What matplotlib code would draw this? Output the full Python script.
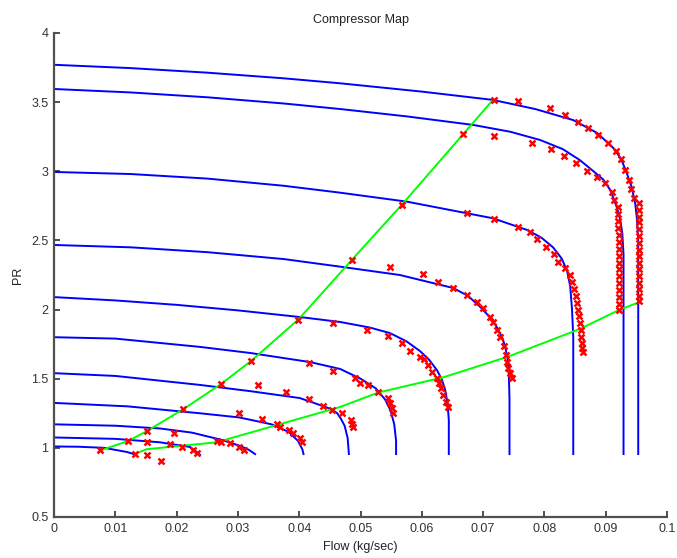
import matplotlib
matplotlib.use("Agg")
import matplotlib.pyplot as plt
from matplotlib.ticker import FuncFormatter

plt.rcParams['font.family'] = ['Liberation Sans', 'DejaVu Sans']

# speed lines (flow kg/sec, pressure ratio)
speed_flow = [
	[0, 0.0125, 0.025, 0.0375, 0.0467, 0.06, 0.0716, 0.0785, 0.0847, 0.0886, 0.0912, 0.0925, 0.0934, 0.0942, 0.0948, 0.0951, 0.0953, 0.0953],
	[0, 0.0125, 0.025, 0.0375, 0.0467, 0.0575, 0.0684, 0.0745, 0.0793, 0.083, 0.0858, 0.088, 0.0896, 0.0908, 0.0918, 0.0924, 0.0927, 0.0929, 0.0929],
	[0, 0.0125, 0.025, 0.0375, 0.0467, 0.0576, 0.0716, 0.0772, 0.0795, 0.0814, 0.0828, 0.0837, 0.0842, 0.0845, 0.0847, 0.0847],
	[0, 0.0125, 0.025, 0.0375, 0.0467, 0.0564, 0.0651, 0.0675, 0.0695, 0.0712, 0.0722, 0.0731, 0.0736, 0.074, 0.0742, 0.0743, 0.0743],
	[0, 0.01, 0.02, 0.03, 0.0401, 0.0467, 0.0515, 0.0548, 0.0575, 0.0597, 0.0612, 0.0625, 0.0633, 0.0638, 0.0642, 0.0644, 0.0644],
	[0, 0.01, 0.0238, 0.032, 0.0418, 0.0467, 0.05, 0.0525, 0.054, 0.0549, 0.0555, 0.0558, 0.0558],
	[0, 0.01, 0.0238, 0.032, 0.0401, 0.044, 0.0452, 0.0462, 0.0468, 0.0474, 0.0479, 0.0481],
	[0, 0.012, 0.0238, 0.0302, 0.0355, 0.0383, 0.0398, 0.0405, 0.0407],
	[0, 0.01, 0.0173, 0.0225, 0.0274, 0.0303, 0.0318, 0.0328],
	[0, 0.01, 0.0173, 0.0222, 0.0233, 0.0238],
	[0, 0.004, 0.0082, 0.0119, 0.0134],
]
speed_pr = [
	[3.77, 3.746, 3.713, 3.672, 3.636, 3.576, 3.516, 3.45, 3.37, 3.277, 3.17, 3.09, 2.99, 2.89, 2.77, 2.65, 2.5, 0.955],
	[3.595, 3.57, 3.535, 3.49, 3.45, 3.397, 3.335, 3.285, 3.226, 3.16, 3.08, 3.0, 2.94, 2.86, 2.74, 2.64, 2.55, 2.4, 0.955],
	[2.995, 2.98, 2.947, 2.895, 2.845, 2.78, 2.66, 2.575, 2.52, 2.45, 2.37, 2.28, 2.17, 2.0, 1.8, 0.955],
	[2.467, 2.45, 2.415, 2.365, 2.31, 2.25, 2.156, 2.10, 2.02, 1.94, 1.875, 1.80, 1.73, 1.64, 1.52, 1.35, 0.955],
	[2.09, 2.066, 2.034, 1.994, 1.946, 1.91, 1.87, 1.83, 1.77, 1.70, 1.636, 1.56, 1.49, 1.42, 1.32, 1.2, 0.955],
	[1.80, 1.79, 1.73, 1.686, 1.62, 1.57, 1.50, 1.43, 1.35, 1.27, 1.17, 1.05, 0.955],
	[1.54, 1.52, 1.455, 1.41, 1.36, 1.30, 1.28, 1.25, 1.21, 1.16, 1.07, 0.955],
	[1.325, 1.30, 1.25, 1.22, 1.17, 1.115, 1.05, 0.99, 0.955],
	[1.17, 1.16, 1.14, 1.11, 1.057, 1.015, 0.985, 0.955],
	[1.075, 1.065, 1.04, 1.006, 0.97, 0.95],
	[1.01, 1.008, 1.0, 0.97, 0.95],
]

# surge line and choke line
surge_flow = [0.0075, 0.0121, 0.0151, 0.0211, 0.0272, 0.0322, 0.0399, 0.0486, 0.0567, 0.0716]
surge_pr = [0.98, 1.05, 1.12, 1.28, 1.46, 1.63, 1.93, 2.36, 2.756, 3.516]
choke_flow = [0.0132, 0.0151, 0.0265, 0.0467, 0.0529, 0.0635, 0.0741, 0.0858, 0.0923, 0.0953]
choke_pr = [0.956, 0.99, 1.04, 1.296, 1.40, 1.51, 1.66, 1.86, 2.0, 2.05]

# measured points
meas_flow = [
	0.0075, 0.0132, 0.0151, 0.0174,
	0.0121, 0.0151, 0.019, 0.0208, 0.0227, 0.0233,
	0.0151, 0.0196, 0.0266, 0.0272, 0.0287, 0.0301, 0.031,
	0.0211, 0.0302, 0.0339, 0.0364, 0.0369, 0.0383, 0.039, 0.0401, 0.0404,
	0.0272, 0.0333, 0.0378, 0.0416, 0.0439, 0.0453, 0.047, 0.0484, 0.0486, 0.0488,
	0.0322, 0.0416, 0.0455, 0.0491, 0.0499, 0.0512, 0.0529, 0.0545, 0.0548, 0.0551, 0.0553,
	0.0398, 0.0455, 0.051, 0.0545, 0.0568, 0.0581, 0.0597, 0.0603, 0.061, 0.0617, 0.0625, 0.0628, 0.0631, 0.0635, 0.0639, 0.0643,
	0.0486, 0.0548, 0.0602, 0.0627, 0.0651, 0.0673, 0.069, 0.07, 0.0711, 0.0716, 0.0722, 0.0727, 0.0734, 0.0737, 0.0739, 0.0741, 0.0744, 0.0747,
	0.0568, 0.0674, 0.0718, 0.0757, 0.0777, 0.0788, 0.0803, 0.0815, 0.0822, 0.0834, 0.0841, 0.0845, 0.0848, 0.0851, 0.0853, 0.0855, 0.0857, 0.0858, 0.0859, 0.086, 0.0861, 0.0862, 0.0863,
	0.0667, 0.0718, 0.078, 0.081, 0.0832, 0.0852, 0.087, 0.0886, 0.0899, 0.091, 0.0914,
	0.092, 0.092, 0.092, 0.092, 0.0921, 0.0921, 0.0921, 0.0921, 0.0921, 0.0922, 0.0922, 0.0922, 0.0922, 0.0922, 0.0922, 0.0922,
	0.0718, 0.0757, 0.0809, 0.0834, 0.0855, 0.0871, 0.0887, 0.0904, 0.0917, 0.0925, 0.0932, 0.0938, 0.0942, 0.0946,
	0.0954, 0.0954, 0.0954, 0.0954, 0.0954, 0.0954, 0.0954, 0.0954, 0.0954, 0.0954, 0.0954, 0.0954, 0.0954, 0.0954, 0.0954, 0.0954,
]
meas_pr = [
	0.985, 0.956, 0.95, 0.903,
	1.05, 1.04, 1.03, 1.006, 0.985, 0.96,
	1.12, 1.105, 1.05, 1.045, 1.033, 1.003, 0.983,
	1.28, 1.25, 1.205, 1.17, 1.15, 1.13, 1.11, 1.07, 1.045,
	1.46, 1.455, 1.405, 1.355, 1.30, 1.275, 1.25, 1.20, 1.175, 1.15,
	1.63, 1.61, 1.555, 1.505, 1.47, 1.455, 1.405, 1.36, 1.325, 1.29, 1.255,
	1.925, 1.90, 1.855, 1.81, 1.76, 1.70, 1.66, 1.64, 1.60, 1.55, 1.505, 1.47, 1.43, 1.38, 1.33, 1.295,
	2.36, 2.31, 2.26, 2.20, 2.156, 2.105, 2.055, 2.01, 1.946, 1.91, 1.85, 1.80, 1.74, 1.67, 1.62, 1.58, 1.54, 1.505,
	2.756, 2.70, 2.655, 2.60, 2.56, 2.51, 2.455, 2.40, 2.345, 2.30, 2.25, 2.20, 2.15, 2.10, 2.05, 2.00, 1.95, 1.90, 1.85, 1.80, 1.76, 1.72, 1.69,
	3.27, 3.256, 3.206, 3.16, 3.11, 3.06, 3.0, 2.96, 2.915, 2.85, 2.79,
	2.74, 2.69, 2.64, 2.59, 2.54, 2.49, 2.44, 2.39, 2.34, 2.29, 2.24, 2.19, 2.14, 2.09, 2.04, 2.0,
	3.516, 3.508, 3.457, 3.407, 3.357, 3.31, 3.263, 3.204, 3.15, 3.09, 3.01, 2.94, 2.87, 2.81,
	2.77, 2.72, 2.67, 2.63, 2.58, 2.53, 2.48, 2.43, 2.39, 2.34, 2.29, 2.24, 2.19, 2.15, 2.10, 2.06,
]

x_ticks = [0, 0.01, 0.02, 0.03, 0.04, 0.05, 0.06, 0.07, 0.08, 0.09, 0.1]
y_ticks = [0.5, 1, 1.5, 2, 2.5, 3, 3.5, 4]

fig = plt.figure(figsize=(6.77, 5.58), dpi=100)
ax = fig.add_axes([0.0798, 0.0735, 0.9055, 0.8674])

for fl, pr in zip(speed_flow, speed_pr):
	ax.plot(fl, pr, color='#0000ff', lw=1.4)

ax.plot(surge_flow, surge_pr, color='#00ff00', lw=1.4)
ax.plot(choke_flow, choke_pr, color='#00ff00', lw=1.4)

ax.plot(meas_flow, meas_pr, 'x', color='#ff0000', ms=4.5, mew=1.8)

ax.set_xlim(0, 0.1)
ax.set_ylim(0.5, 4)
ax.set_xticks(x_ticks)
ax.set_yticks(y_ticks)
ax.xaxis.set_major_formatter(FuncFormatter(lambda v, p: '%g' % v))
ax.yaxis.set_major_formatter(FuncFormatter(lambda v, p: '%g' % v))

for side in ['top', 'right']:
	ax.spines[side].set_visible(False)
for side in ['left', 'bottom']:
	ax.spines[side].set_color('#505050')
	ax.spines[side].set_linewidth(1.6)

ax.tick_params(direction='in', length=4, width=1.2, color='#303030',
	labelsize=9, labelcolor='#333333', pad=4)

ax.set_title('Compressor Map', fontsize=9, color='#222222', pad=7)
ax.set_xlabel('Flow (kg/sec)', fontsize=9, color='#222222', labelpad=5)
ax.set_ylabel('PR', fontsize=9, color='#222222', labelpad=5)

fig.savefig('out.png', dpi=100)
